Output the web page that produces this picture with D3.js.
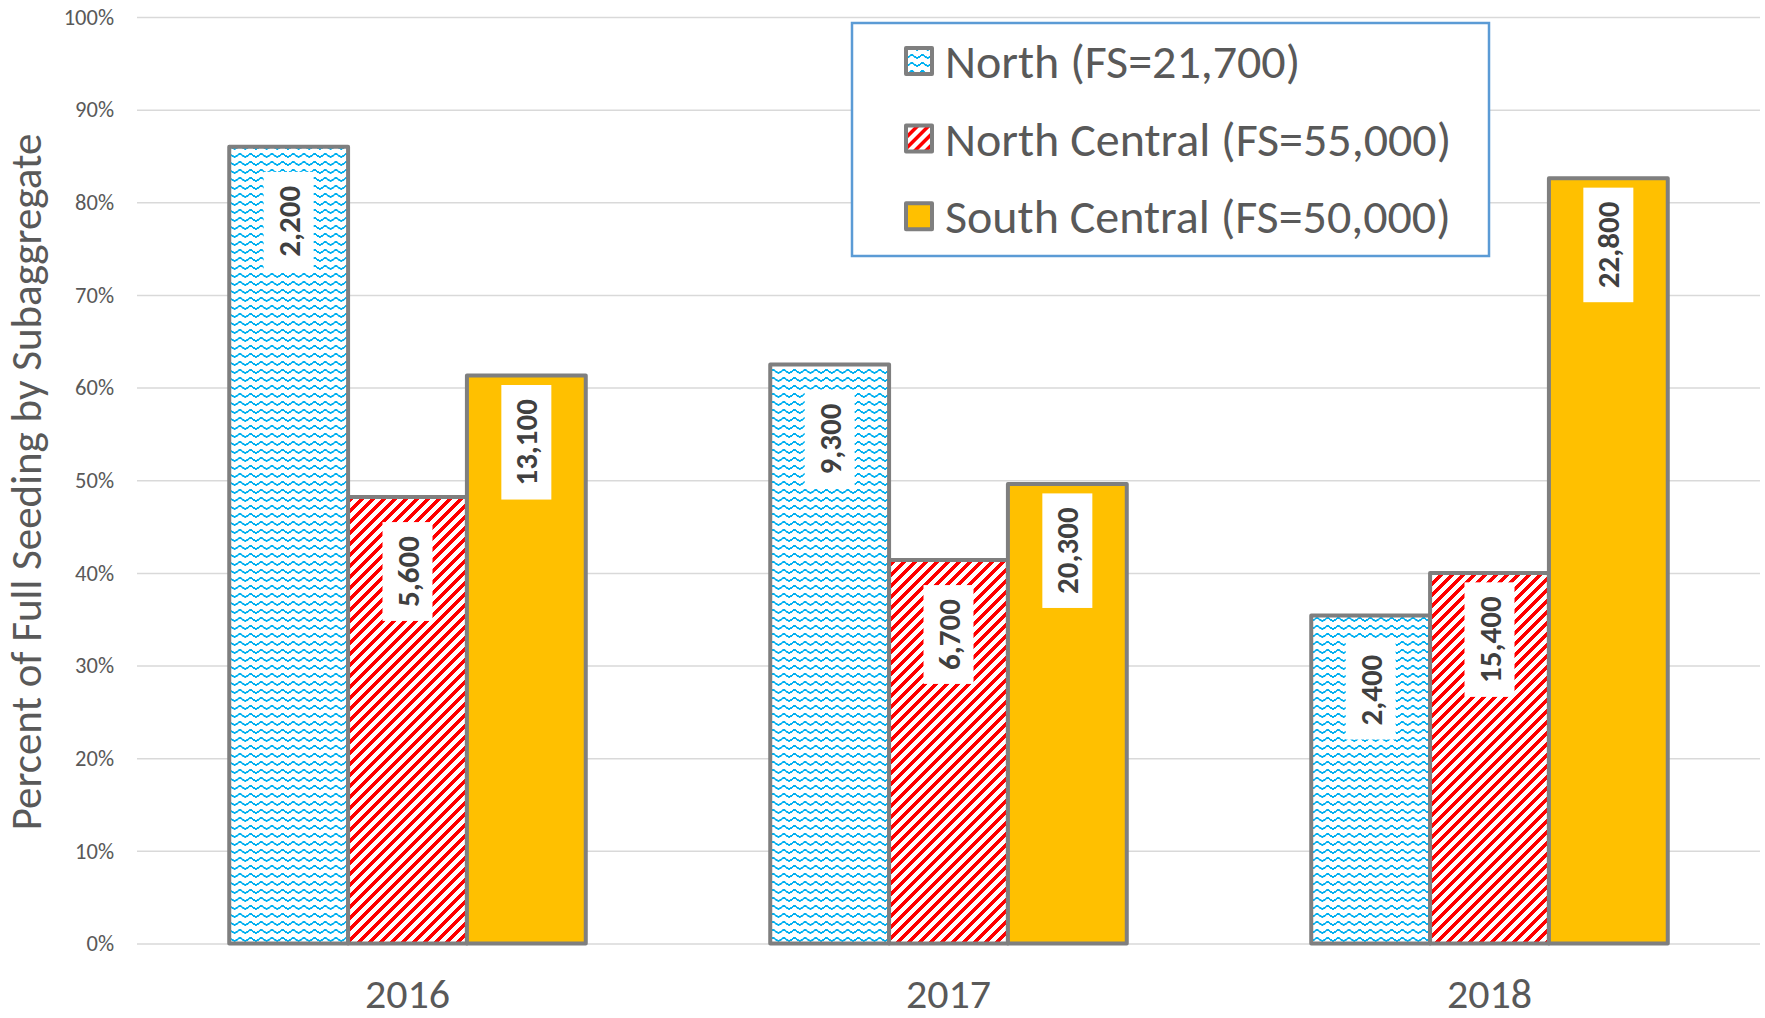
<!DOCTYPE html>
<html>
<head>
<meta charset="utf-8">
<script src="https://cdn.jsdelivr.net/npm/d3@7"></script>
<style>
  body { margin: 0; background: #fff; }
  svg { display: block; font-family: Carlito, Lato, sans-serif; }
</style>
</head>
<body>
<div id="chart"></div>
<script>
var width = 1765
var height = 1018

// data
var years = ["2016", "2017", "2018"]
var seriesNames = ["North (FS=21,700)", "North Central (FS=55,000)", "South Central (FS=50,000)"]
var northPct = [86.0, 62.5, 35.4]
var northCentralPct = [48.2, 41.4, 40.0]
var southCentralPct = [61.3, 49.6, 82.6]
var northCount = [2200, 9300, 2400]
var northCentralCount = [5600, 6700, 15400]
var southCentralCount = [13100, 20300, 22800]
var yTicks = [0, 10, 20, 30, 40, 50, 60, 70, 80, 90, 100]

var seriesKeys = ["n", "nc", "sc"]
var fills = ["url(#wave)", "url(#stripe)", "#ffc000"]

var rows = []
years.forEach(function(yr, i) {
  rows.push({year: yr, key: "n", pct: northPct[i], count: northCount[i]})
  rows.push({year: yr, key: "nc", pct: northCentralPct[i], count: northCentralCount[i]})
  rows.push({year: yr, key: "sc", pct: southCentralPct[i], count: southCentralCount[i]})
})

var x0 = d3.scaleBand()
    .domain(years)
    .range([137, 1760])
    .paddingInner(0.341)
    .paddingOuter(0.1705)
var x1 = d3.scaleBand()
    .domain(seriesKeys)
    .range([0, x0.bandwidth()])
var y = d3.scaleLinear()
    .domain([0, 100])
    .range([943.5, 17])
var fillOf = d3.scaleOrdinal().domain(seriesKeys).range(fills)
var fmt = d3.format(",")

var svg = d3.select("#chart").append("svg")
    .attr("width", width)
    .attr("height", height)

// hatch patterns (pixel bitmaps like the office ones)
var defs = svg.append("defs")
var wave = defs.append("pattern")
    .attr("id", "wave")
    .attr("patternUnits", "userSpaceOnUse")
    .attr("width", 8).attr("height", 8)
    .attr("patternTransform", "scale(1.333,1)")
wave.append("rect").attr("width", 8).attr("height", 8).attr("fill", "#fff")
var wavePix = [[3,1],[4,1],[2,2],[5,2],[1,3],[6,3],[0,4],[7,4]]
wave.selectAll("rect.px")
    .data(wavePix)
    .enter()
    .append("rect")
    .attr("class", "px")
    .attr("x", function(d) { return d[0] })
    .attr("y", function(d) { return d[1] })
    .attr("width", 1).attr("height", 1.6)
    .attr("fill", "#00b0f0")
    .attr("shape-rendering", "crispEdges")

var stripe = defs.append("pattern")
    .attr("id", "stripe")
    .attr("patternUnits", "userSpaceOnUse")
    .attr("width", 11).attr("height", 11)
stripe.append("rect").attr("width", 11).attr("height", 11).attr("fill", "#fff")
// upward diagonal band, repeated so tile edges join
stripe.selectAll("polygon")
    .data([-11, 0, 11])
    .enter()
    .append("polygon")
    .attr("points", function(o) {
      return [[o, 11], [o + 11, 0], [o + 16.5, 0], [o + 5.5, 11]].map(function(p) { return p.join(",") }).join(" ")
    })
    .attr("fill", "#ff0000")
    .attr("shape-rendering", "crispEdges")

// gridlines
var yAxis = d3.axisLeft(y)
    .tickValues(yTicks)
    .tickSize(-(1760 - 137))
    .tickFormat(function(d) { return d + "%" })
var gy = svg.append("g")
    .attr("transform", "translate(137,0)")
    .call(yAxis)
gy.select(".domain").remove()
gy.selectAll(".tick line")
    .attr("stroke", "#d9d9d9")
    .attr("stroke-width", 1.5)
gy.selectAll(".tick text")
    .attr("x", -23)
    .attr("fill", "#595959")
    .style("font-size", "22.5px")
    .style("font-family", "Carlito, Lato, sans-serif")

// x axis labels
var xAxis = d3.axisBottom(x0).tickSize(0)
var gx = svg.append("g")
    .attr("transform", "translate(0,943.5)")
    .call(xAxis)
gx.select(".domain").remove()
gx.selectAll(".tick text")
    .attr("y", 35)
    .attr("dy", "0.71em")
    .attr("fill", "#595959")
    .style("font-size", "42px")
    .style("font-family", "Carlito, Lato, sans-serif")

// y title
svg.append("text")
    .attr("transform", "translate(41,482) rotate(-90)")
    .attr("text-anchor", "middle")
    .attr("fill", "#595959")
    .style("font-size", "43px")
    .text("Percent of Full Seeding by Subaggregate")

// bars
var bars = svg.append("g")
bars.selectAll("rect")
    .data(rows)
    .enter()
    .append("rect")
    .attr("x", function(d) { return x0(d.year) + x1(d.key) })
    .attr("y", function(d) { return y(d.pct) })
    .attr("width", x1.bandwidth())
    .attr("height", function(d) { return y(0) - y(d.pct) })
    .attr("fill", function(d) { return fillOf(d.key) })
    .attr("stroke", "#7f7f7f")
    .attr("stroke-width", 4)
    .attr("stroke-linejoin", "round")

// value labels
var labels = svg.append("g")
    .selectAll("g")
    .data(rows)
    .enter()
    .append("g")
labels.each(function(d) {
  var g = d3.select(this)
  var cx = x0(d.year) + x1(d.key) + x1.bandwidth() / 2
  var bottom = y(d.pct) + 124
  var t = g.append("text")
      .attr("text-anchor", "middle")
      .attr("dominant-baseline", "central")
      .attr("fill", "#404040")
      .style("font-size", "31px")
      .style("font-weight", "bold")
      .text(fmt(d.count))
  var len = t.node().getComputedTextLength()
  var h = len + 28
  var cy = bottom - h / 2
  t.attr("transform", "translate(" + cx + "," + cy + ") rotate(-90)")
  g.insert("rect", "text")
      .attr("x", cx - 25)
      .attr("y", bottom - h)
      .attr("width", 50)
      .attr("height", h)
      .attr("fill", "#fff")
})

// legend
var legend = svg.append("g")
legend.append("rect")
    .attr("x", 852)
    .attr("y", 23)
    .attr("width", 1489 - 852)
    .attr("height", 256 - 23)
    .attr("fill", "#fff")
    .attr("stroke", "#5b9bd5")
    .attr("stroke-width", 2.5)
var item = legend.selectAll("g.item")
    .data(seriesNames)
    .enter()
    .append("g")
    .attr("class", "item")
    .attr("transform", function(d, i) { return "translate(0," + (61 + i * 77.6) + ")" })
item.append("rect")
    .attr("x", 906)
    .attr("y", -13)
    .attr("width", 26)
    .attr("height", 26)
    .attr("fill", function(d, i) { return fills[i] })
    .attr("stroke", "#7f7f7f")
    .attr("stroke-width", 4)
    .attr("stroke-linejoin", "round")
item.append("text")
    .attr("x", 945)
    .attr("dy", "0.36em")
    .attr("fill", "#595959")
    .style("font-size", "48px")
    .text(function(d) { return d })
</script>
</body>
</html>
